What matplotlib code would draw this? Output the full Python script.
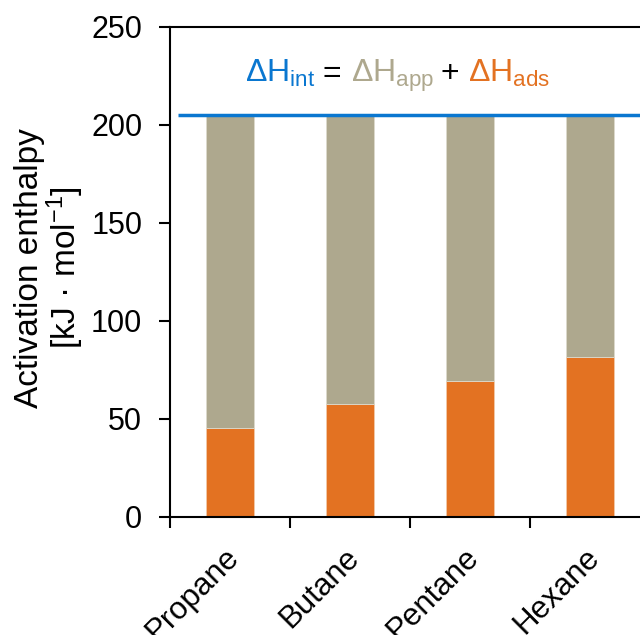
import numpy as np
import matplotlib.pyplot as plt

plt.rcParams['font.family'] = ['Liberation Sans', 'DejaVu Sans']
plt.rcParams['mathtext.fontset'] = 'custom'
plt.rcParams['mathtext.rm'] = 'Liberation Sans'
plt.rcParams['mathtext.it'] = 'Liberation Sans'
plt.rcParams['mathtext.default'] = 'regular'

# data
alkanes = ['Propane', 'Butane', 'Pentane', 'Hexane']
dH_ads = np.array([45.3, 57.6, 69.4, 81.6])     # orange part
dH_int = 205.0                                   # blue line / bar total
dH_app = dH_int - dH_ads                         # grey part

c_ads = '#E37222'
c_app = '#AEA88E'
c_int = '#0A77D0'

fig = plt.figure(figsize=(6.4, 6.35), dpi=100)
ax = fig.add_axes([170/640, 118/635, 480/640, 490/635])

x = np.arange(len(alkanes))
ax.bar(x, dH_ads, width=0.4, color=c_ads, edgecolor='#F2C9A8', linewidth=0.6)
ax.bar(x, dH_app, width=0.4, bottom=dH_ads, color=c_app, edgecolor='#DDD9CC', linewidth=0.6)
ax.plot([-0.43, 3.6], [dH_int, dH_int], color=c_int, lw=2.5, solid_capstyle='butt', clip_on=False)

ax.set_xlim(-0.5, 3.5)
ax.set_ylim(0, 250)
ax.set_yticks([0, 50, 100, 150, 200, 250])
ax.set_xticks(x - 0.5)
ax.set_xticklabels([])
for xi, name in zip(x, alkanes):
    ax.text(xi - 0.05, -13, name, rotation=45, ha='right', va='top',
            rotation_mode='anchor', fontsize=22.5)

for s in ax.spines.values():
    s.set_linewidth(1.5)
ax.tick_params(axis='both', width=1.5, length=8, labelsize=22, direction='out')
ax.tick_params(axis='y', pad=12)

fig.text(50/640, 1 - 268/635, 'Activation enthalpy\n[kJ · mol$^{-1}$]', fontsize=24,
         rotation=90, ha='center', va='center', multialignment='center', linespacing=1.0)

# coloured equation, each piece at its own x position
pieces = [(r'$\Delta$H$_{int}$', c_int, 245), ('=', 'black', 322),
          (r'$\Delta$H$_{app}$', c_app, 351), ('+', 'black', 440),
          (r'$\Delta$H$_{ads}$', c_ads, 468)]
for s, c, px in pieces:
    fig.text(px / 640, (635 - 82) / 635, s, color=c, fontsize=23, va='baseline', ha='left')

fig.savefig('out.png', dpi=100)
